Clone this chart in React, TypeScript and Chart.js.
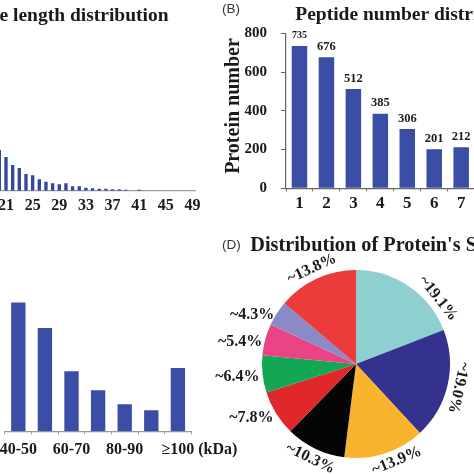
import React, { useEffect, useRef } from 'react';
import { Chart, registerables } from 'chart.js';

Chart.register(...registerables);

// ---------------- data ----------------
// (A) Peptide length distribution (visible part of the axis)
const lengthCategories = [
  '20', '21', '22', '23', '24', '25', '26', '27', '28', '29',
  '30', '31', '32', '33', '34', '35', '36', '37', '38', '39',
  '40', '41', '42', '43', '44', '45', '46', '47', '48', '49',
];
const lengthCounts = [
  81, 67, 51, 45, 33, 31, 23, 18, 15, 13,
  15, 9, 9, 6, 5, 4, 4, 3, 3, 2,
  0, 2, 0, 0, 0, 0, 0, 0, 0, 0,
];

// (B) Peptide number distribution
const peptideNumbers = ['1', '2', '3', '4', '5', '6', '7'];
const proteinCounts = [735, 676, 512, 385, 306, 201, 212];
const proteinTicks = [0, 200, 400, 600, 800];

// (C) Molecular weight distribution (kDa)
const weightRanges = ['40-50', '50-60', '60-70', '70-80', '80-90', '90-100', '≥100'];
const weightCounts = [386, 310, 180, 123, 81, 63, 190];

// (D) Subcellular localisation shares (%)
const locationShares = [19.1, 19.0, 13.9, 10.3, 7.8, 6.4, 5.4, 4.3, 13.8];
const locationColors = [
  '#8ecfcf', '#35318f', '#f9b42d', '#050505', '#e0282a',
  '#13a654', '#ea4484', '#8a8ac8', '#ec3b3b',
];

// ---------------- styles ----------------
const SERIF = '"Liberation Serif", "Times New Roman", serif';
const SANS = '"Liberation Sans", Arial, sans-serif';
const TEXT = '#1a1a1a';
const BLUE = '#3a4ea6';

type TextItem = {
  text: string;
  x: number;
  y: number;
  font: string;
  align?: CanvasTextAlign;
  baseline?: CanvasTextBaseline;
  rotate?: number;
  color?: string;
};

function textPlugin(id: string, items: TextItem[]) {
  return {
    id,
    afterDraw(chart: any) {
      const ctx: CanvasRenderingContext2D = chart.ctx;
      items.forEach((it) => {
        ctx.save();
        ctx.font = it.font;
        ctx.fillStyle = it.color || TEXT;
        ctx.textAlign = it.align || 'left';
        ctx.textBaseline = it.baseline || 'alphabetic';
        ctx.translate(it.x, it.y);
        if (it.rotate) ctx.rotate(it.rotate);
        ctx.fillText(it.text, 0, 0);
        ctx.restore();
      });
    },
  };
}

const common = {
  responsive: false,
  animation: false as const,
  devicePixelRatio: 1,
  events: [] as any[],
};

export default function App() {
  const refA = useRef<HTMLCanvasElement>(null);
  const refB = useRef<HTMLCanvasElement>(null);
  const refC = useRef<HTMLCanvasElement>(null);
  const refD = useRef<HTMLCanvasElement>(null);

  useEffect(() => {
    const charts: Chart[] = [];

    // ---------- Panel A ----------
    charts.push(
      new Chart(refA.current as HTMLCanvasElement, {
        type: 'bar',
        data: {
          labels: lengthCategories,
          datasets: [
            {
              data: lengthCounts,
              backgroundColor: '#34469e',
              barPercentage: 0.5,
              categoryPercentage: 1,
            },
          ],
        },
        options: {
          ...common,
          layout: { padding: { left: 16.01, right: 14.2, top: 40, bottom: 0 } },
          plugins: { legend: { display: false }, tooltip: { enabled: false } },
          scales: {
            x: {
              grid: { display: false, drawTicks: false },
              border: { display: true, color: '#9a9a9a', width: 1.3 },
              ticks: {
                autoSkip: false,
                maxRotation: 0,
                padding: 5.7,
                color: TEXT,
                font: { family: SERIF, weight: 'bold', size: 16 },
                callback: (_v: any, i: number) =>
                  (Number(lengthCategories[i]) - 1) % 4 === 0 ? lengthCategories[i] : '',
              },
              afterFit: (s: any) => {
                s.height = 46.3;
              },
            },
            y: { display: false, min: 0, max: 300 },
          },
        } as any,
        plugins: [
          textPlugin('textsA', [
            {
              text: 'Peptide length distribution',
              x: 188.5,
              y: 20.5,
              align: 'right',
              font: `bold 19.5px ${SERIF}`,
            },
          ]),
        ],
      })
    );

    // ---------- Panel B ----------
    const labelSizes = [10, 12.5, 12.5, 12.5, 12.5, 12.5, 12.5];
    charts.push(
      new Chart(refB.current as HTMLCanvasElement, {
        type: 'bar',
        data: {
          labels: peptideNumbers,
          datasets: [
            {
              data: proteinCounts,
              backgroundColor: BLUE,
              barPercentage: 0.575,
              categoryPercentage: 1,
            },
          ],
        },
        options: {
          ...common,
          layout: { padding: { left: 0, right: 25.35, top: 33.3, bottom: 0 } },
          plugins: { legend: { display: false }, tooltip: { enabled: false } },
          scales: {
            x: {
              grid: { drawOnChartArea: false, drawTicks: true, tickLength: 3, color: '#666' },
              border: { display: true, color: '#666', width: 1.2 },
              ticks: {
                autoSkip: false,
                maxRotation: 0,
                padding: 2.5,
                color: TEXT,
                font: { family: SERIF, weight: 'bold', size: 17 },
              },
              afterFit: (s: any) => {
                s.height = 48.7;
              },
            },
            y: {
              min: 0,
              max: 800,
              afterBuildTicks: (s: any) => {
                s.ticks = proteinTicks.map((v) => ({ value: v }));
              },
              grid: { drawOnChartArea: false, drawTicks: true, tickLength: 5, color: '#666' },
              border: { display: true, color: '#666', width: 1.2 },
              ticks: {
                padding: 14,
                color: TEXT,
                font: { family: SERIF, weight: 'bold', size: 15 },
              },
              afterFit: (s: any) => {
                s.width = 86;
              },
            },
          },
        } as any,
        plugins: [
          {
            id: 'barLabelsB',
            afterDatasetsDraw(chart: any) {
              const ctx: CanvasRenderingContext2D = chart.ctx;
              const meta = chart.getDatasetMeta(0);
              meta.data.forEach((bar: any, i: number) => {
                ctx.save();
                ctx.font = `bold ${labelSizes[i]}px ${SERIF}`;
                ctx.fillStyle = TEXT;
                ctx.textAlign = 'center';
                ctx.textBaseline = 'alphabetic';
                ctx.fillText(String(proteinCounts[i]), bar.x, bar.y - 7.5);
                ctx.restore();
              });
            },
          },
          textPlugin('textsB', [
            { text: '(B)', x: 22, y: 9.5, baseline: 'middle', font: `13.5px ${SANS}`, color: '#333' },
            { text: 'Peptide number distribution', x: 95.3, y: 20, font: `bold 19.5px ${SERIF}` },
            {
              text: 'Protein number',
              x: 33.5,
              y: 106,
              align: 'center',
              baseline: 'middle',
              rotate: -Math.PI / 2,
              font: `bold 20px ${SERIF}`,
            },
          ]),
        ],
      })
    );

    // ---------- Panel C ----------
    charts.push(
      new Chart(refC.current as HTMLCanvasElement, {
        type: 'bar',
        data: {
          labels: weightRanges,
          datasets: [
            {
              data: weightCounts,
              backgroundColor: BLUE,
              barPercentage: 0.54,
              categoryPercentage: 1,
            },
          ],
        },
        options: {
          ...common,
          layout: { padding: { left: 25, right: 58.8, top: 27.6, bottom: 0 } },
          plugins: { legend: { display: false }, tooltip: { enabled: false } },
          scales: {
            x: {
              grid: { drawOnChartArea: false, drawTicks: true, tickLength: 3, color: '#999' },
              border: { display: true, color: '#999', width: 1.3 },
              ticks: {
                autoSkip: false,
                maxRotation: 0,
                padding: 6.4,
                color: TEXT,
                font: { family: SERIF, weight: 'bold', size: 16 },
                callback: (_v: any, i: number) => (i % 2 === 0 ? weightRanges[i] : ''),
              },
              afterFit: (s: any) => {
                s.height = 42.7;
              },
            },
            y: { display: false, min: 0, max: 500 },
          },
        } as any,
        plugins: [
          {
            id: 'unitC',
            afterDraw(chart: any) {
              const ctx: CanvasRenderingContext2D = chart.ctx;
              const x = chart.scales.x;
              const last = weightRanges.length - 1;
              const cx = x.getPixelForValue(last);
              ctx.save();
              ctx.font = `bold 16px ${SERIF}`;
              const w = ctx.measureText(weightRanges[last]).width;
              const sp = ctx.measureText(' ').width;
              ctx.fillStyle = TEXT;
              ctx.textAlign = 'left';
              ctx.textBaseline = 'middle';
              ctx.fillText('(kDa)', cx + w / 2 + sp, x.top + 3 + 6.4 + 9.6);
              ctx.restore();
            },
          },
        ],
      })
    );

    // ---------- Panel D ----------
    const labelShift: Record<number, number> = { 0: 17, 2: -5 };
    charts.push(
      new Chart(refD.current as HTMLCanvasElement, {
        type: 'pie',
        data: {
          labels: locationShares.map((v) => `~${v.toFixed(1)}%`),
          datasets: [
            {
              data: locationShares,
              backgroundColor: locationColors,
              borderWidth: 0,
              hoverOffset: 0,
              offset: 0,
            },
          ],
        },
        options: {
          ...common,
          layout: { padding: { left: 66, right: 66, top: 46, bottom: 66 } },
          plugins: { legend: { display: false }, tooltip: { enabled: false } },
        } as any,
        plugins: [
          {
            id: 'pieLabels',
            afterDraw(chart: any) {
              const ctx: CanvasRenderingContext2D = chart.ctx;
              const meta = chart.getDatasetMeta(0);
              const labels = chart.data.labels as string[];
              meta.data.forEach((arc: any, i: number) => {
                const p = arc.getProps(['x', 'y', 'startAngle', 'endAngle', 'outerRadius'], true);
                const mid = (p.startAngle + p.endAngle) / 2 + ((labelShift[i] || 0) * Math.PI) / 180;
                let theta = mid + Math.PI / 2;
                theta = ((theta % (2 * Math.PI)) + 2 * Math.PI) % (2 * Math.PI);
                const deg = (theta * 180) / Math.PI;
                ctx.save();
                ctx.font = `bold 16px ${SERIF}`;
                ctx.fillStyle = TEXT;
                if (deg > 225 && deg < 315) {
                  const r = p.outerRadius + 3;
                  ctx.textAlign = 'right';
                  ctx.textBaseline = 'middle';
                  ctx.fillText(labels[i], p.x + r * Math.cos(mid), p.y + r * Math.sin(mid) + 3);
                } else {
                  const r = p.outerRadius + 11;
                  let rot = theta;
                  if (deg > 120 && deg < 240) rot -= Math.PI;
                  ctx.translate(p.x + r * Math.cos(mid), p.y + r * Math.sin(mid));
                  ctx.rotate(rot);
                  ctx.textAlign = 'center';
                  ctx.textBaseline = 'middle';
                  ctx.fillText(labels[i], 0, 0);
                }
                ctx.restore();
              });
            },
          },
          textPlugin('textsD', [
            { text: '(D)', x: 26, y: 21.5, baseline: 'middle', font: `13.5px ${SANS}`, color: '#333' },
            {
              text: "Distribution of Protein's Subcellular Localization",
              x: 54.3,
              y: 26.5,
              font: `bold 20.3px ${SERIF}`,
            },
          ]),
        ],
      })
    );

    return () => {
      charts.forEach((c) => c.destroy());
    };
  }, []);

  const canvasStyle = (left: number, top: number, w: number, h: number): React.CSSProperties => ({
    position: 'absolute',
    left,
    top,
    width: w,
    height: h,
  });

  return (
    <div
      style={{
        position: 'absolute',
        left: 0,
        top: 0,
        width: 474,
        height: 474,
        overflow: 'hidden',
        background: '#ffffff',
      }}
    >
      <canvas ref={refA} width={230} height={237} style={canvasStyle(-20, 0, 230, 237)} />
      <canvas ref={refC} width={270} height={237} style={canvasStyle(-20, 237, 270, 237)} />
      <canvas ref={refB} width={300} height={237} style={canvasStyle(200, 0, 300, 237)} />
      <canvas ref={refD} width={320} height={300} style={canvasStyle(196, 224, 320, 300)} />
    </div>
  );
}
